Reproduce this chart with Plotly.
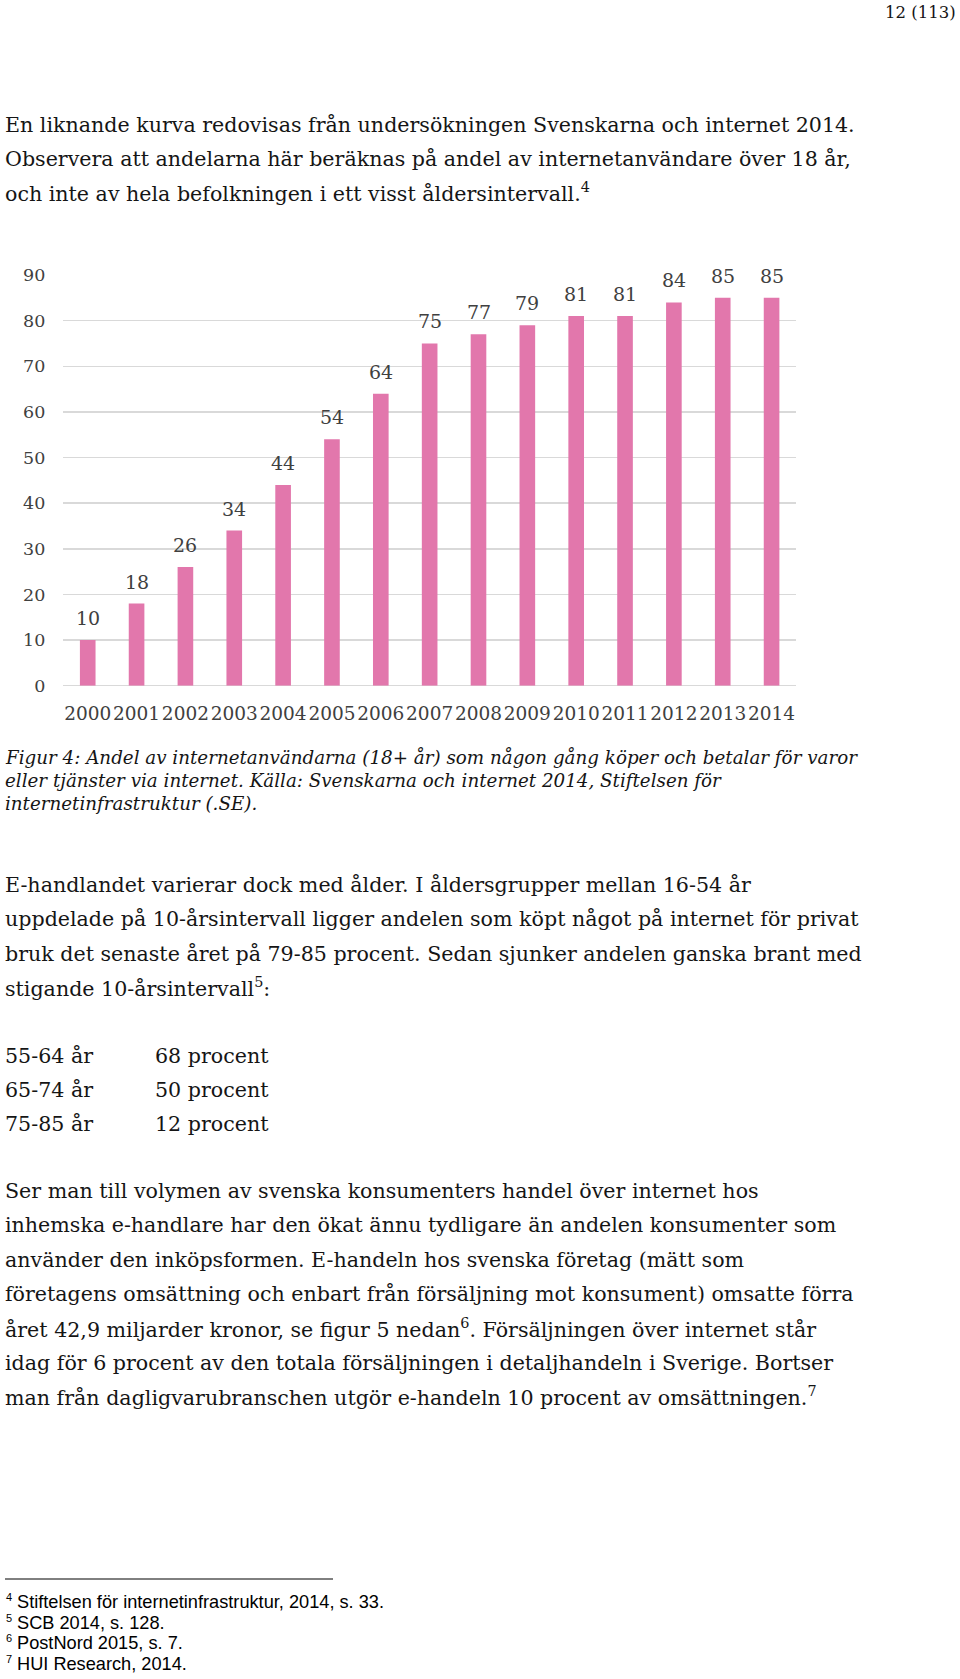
import plotly.graph_objects as go

# ---------------- data ----------------
years = ["2000", "2001", "2002", "2003", "2004", "2005", "2006", "2007",
         "2008", "2009", "2010", "2011", "2012", "2013", "2014"]
values = [10, 18, 26, 34, 44, 54, 64, 75, 77, 79, 81, 81, 84, 85, 85]
y_ticks = [0, 10, 20, 30, 40, 50, 60, 70, 80, 90]

page_number = "12 (113)"
intro_lines = [
    "En liknande kurva redovisas från undersökningen Svenskarna och internet 2014.",
    "Observera att andelarna här beräknas på andel av internetanvändare över 18 år,",
    "och inte av hela befolkningen i ett visst åldersintervall.<sup>4</sup>",
]
caption_lines = [
    "Figur 4: Andel av internetanvändarna (18+ år) som någon gång köper och betalar för varor",
    "eller tjänster via internet. Källa: Svenskarna och internet 2014, Stiftelsen för",
    "internetinfrastruktur (.SE).",
]
para1_lines = [
    "E-handlandet varierar dock med ålder. I åldersgrupper mellan 16-54 år",
    "uppdelade på 10-årsintervall ligger andelen som köpt något på internet för privat",
    "bruk det senaste året på 79-85 procent. Sedan sjunker andelen ganska brant med",
    "stigande 10-årsintervall<sup>5</sup>:",
]
age_groups = ["55-64 år", "65-74 år", "75-85 år"]
age_shares = ["68 procent", "50 procent", "12 procent"]
para2_lines = [
    "Ser man till volymen av svenska konsumenters handel över internet hos",
    "inhemska e-handlare har den ökat ännu tydligare än andelen konsumenter som",
    "använder den inköpsformen. E-handeln hos svenska företag (mätt som",
    "företagens omsättning och enbart från försäljning mot konsument) omsatte förra",
    "året 42,9 miljarder kronor, se figur 5 nedan<sup>6</sup>. Försäljningen över internet står",
    "idag för 6 procent av den totala försäljningen i detaljhandeln i Sverige. Bortser",
    "man från dagligvarubranschen utgör e-handeln 10 procent av omsättningen.<sup>7</sup>",
]
footnote_nums = ["4", "5", "6", "7"]
footnote_texts = [
    "Stiftelsen för internetinfrastruktur, 2014, s. 33.",
    "SCB 2014, s. 128.",
    "PostNord 2015, s. 7.",
    "HUI Research, 2014.",
]

# ---------------- layout helpers ----------------
W, H = 960, 1679
def px(x):
    return x / W
def py(y):
    return 1 - y / H

SERIF = "DejaVu Serif"
BAR_COLOR = "#E277AC"
LABEL_COLOR = "#404040"
TEXT_COLOR = "#151515"

x_idx = list(range(len(years)))

fig = go.Figure()
fig.add_trace(go.Bar(
    x=x_idx, y=values, marker_color=BAR_COLOR, marker_line_width=0,
    width=0.32, hoverinfo="skip", showlegend=False,
))

annotations = []
# value labels above bars
for i, v in zip(x_idx, values):
    annotations.append(dict(
        x=i, y=v, xref="x", yref="y", text=str(v), showarrow=False,
        yanchor="bottom", xanchor="center", yshift=9,
        font=dict(family=SERIF, size=19, color=LABEL_COLOR),
    ))

def text_line(txt, x, y, size, family=SERIF, color=TEXT_COLOR, anchor="left"):
    annotations.append(dict(
        x=px(x), y=py(y), xref="paper", yref="paper", text=txt,
        showarrow=False, xanchor=anchor, yanchor="middle",
        font=dict(family=family, size=size, color=color),
    ))

text_line(page_number, 958, 13, 16.5, anchor="right")

BODY = 20.6
for i, t in enumerate(intro_lines):
    text_line(t, 3, 125 + i * 34, BODY)

for i, t in enumerate(caption_lines):
    text_line("<i>" + t + "</i>", 3, 757 + i * 23, 18.3)

for i, t in enumerate(para1_lines):
    text_line(t, 3, 885 + i * 34.3, BODY)

for i, (g, s) in enumerate(zip(age_groups, age_shares)):
    text_line(g, 3, 1056 + i * 34, BODY)
    text_line(s, 153, 1056 + i * 34, BODY)

for i, t in enumerate(para2_lines):
    text_line(t, 3, 1191 + i * 34.3, BODY)

for i, (n, t) in enumerate(zip(footnote_nums, footnote_texts)):
    y = 1602 + i * 20.6
    text_line(n, 4, y - 5, 11, family="Liberation Sans", color="#000000")
    text_line(t, 15, y, 18.2, family="Liberation Sans", color="#000000")

fig.update_layout(
    width=W, height=H,
    margin=dict(l=0, r=0, t=0, b=0, autoexpand=False),
    paper_bgcolor="white", plot_bgcolor="white",
    annotations=annotations,
    shapes=[dict(type="line", xref="paper", yref="paper",
                 x0=px(5), x1=px(333), y0=py(1579), y1=py(1579),
                 line=dict(color="#000000", width=1))],
    xaxis=dict(
        domain=[px(63.3), px(796)], range=[-0.5, len(years) - 0.5],
        tickvals=x_idx, ticktext=years, automargin=False, tickangle=0,
        showgrid=False, showline=False, zeroline=False,
        tickfont=dict(family=SERIF, size=18.5, color=LABEL_COLOR),
        ticks="", ticklabelstandoff=15,
    ),
    yaxis=dict(
        domain=[py(685.7), py(275)], range=[0, 90], automargin=False,
        tickvals=y_ticks, ticktext=[str(v) for v in y_ticks],
        showgrid=True, gridcolor="#D9D9D9", gridwidth=1.5,
        zeroline=True, zerolinecolor="#D9D9D9", zerolinewidth=1.5,
        showline=False, ticks="",
        tickfont=dict(family=SERIF, size=17.5, color=LABEL_COLOR),
        ticklabelstandoff=17,
    ),
)

fig.write_html(
    "out.html",
    config={"displayModeBar": False, "staticPlot": True},
    post_script="document.body.style.margin='0';document.body.style.overflow='hidden';",
)
